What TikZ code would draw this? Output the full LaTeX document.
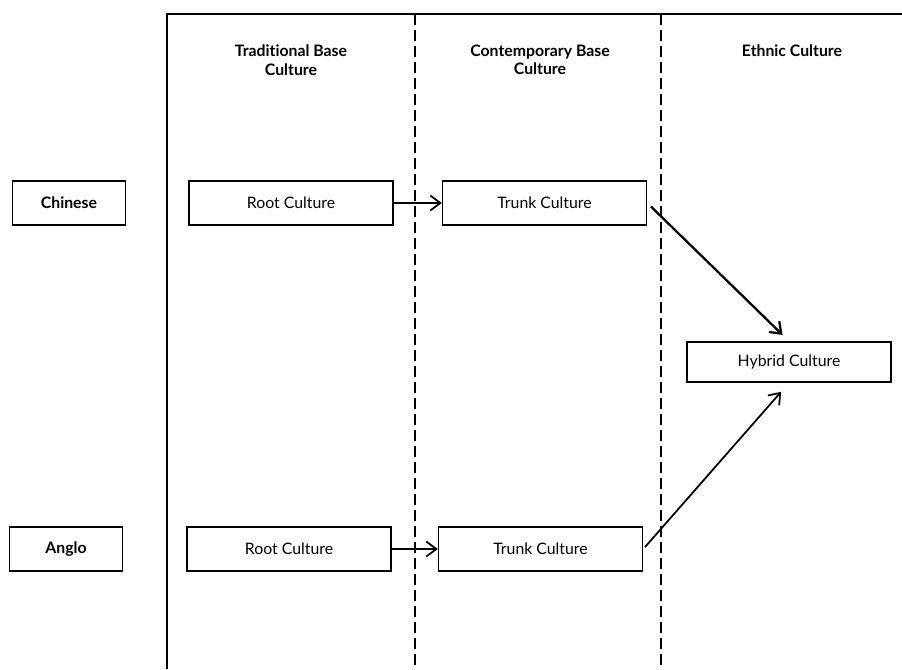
\documentclass[tikz,border=0pt]{standalone}
\usepackage{fontspec}
\setmainfont{Lato}[Ligatures=NoCommon]
\usepackage{tikz}
\usetikzlibrary{positioning}
\usetikzlibrary{arrows.meta}

\tikzset{
	cultbox/.style={draw, line width=0.9pt, minimum width=4.08cm, minimum height=0.88cm, inner sep=0pt, font=\fontsize{9}{11}\selectfont},
	groupbox/.style={draw, line width=0.9pt, minimum width=2.26cm, minimum height=0.88cm, inner sep=0pt, font=\bfseries\fontsize{9}{11}\selectfont},
	colhead/.style={align=center, inner sep=0pt, font=\bfseries\fontsize{9}{10.5}\selectfont},
	divider/.style={line width=0.6pt, dash pattern=on 0.22cm off 0.1cm},
	flow/.style={line width=1pt, -{Straight Barb[length=2mm, width=3mm]}},
}

\begin{document}
\begin{tikzpicture}[x=0.02cm, y=-0.02cm]
		
		% ---------------------
		% Proper size --- Bounding box
		\useasboundingbox (0,0) rectangle (902,669);
		
		% ---------------------
		% Frame & column dividers
		
		\coordinate (Corner) at (167,14);
		
		\path (Corner) +(735,0) coordinate (TopEnd);
		\path (Corner) +(0,655) coordinate (LeftEnd);
		\path (Corner) +(248,0) coordinate (Div1);
		\path (Corner) +(494,0) coordinate (Div2);
		\path (Div1) +(0,655) coordinate (Div1End);
		\path (Div2) +(0,655) coordinate (Div2End);
		
		\draw[line width=0.9pt] (TopEnd) -- (Corner) -- (LeftEnd);
		\draw[divider] (Div1) -- (Div1End);
		\draw[divider] (Div2) -- (Div2End);
		
		% ---------------------
		% Column headings
		
		\node[colhead] (HeadTrad) at (291,60) {Traditional Base\\Culture};
		\node[colhead] (HeadCont) at (540,60) {Contemporary Base\\Culture};
		\node[colhead] (HeadEthn) at (792,51) {Ethnic Culture};
		
		% ---------------------
		% Rows
		
		\node[groupbox] (Chinese) at (69,203) {Chinese};
		\node[cultbox] (RootC) at (291,203) {Root Culture};
		\node[cultbox, right=0.96cm of RootC] (TrunkC) {Trunk Culture};
		
		\node[groupbox] (Anglo) at (66,549) {Anglo};
		\node[cultbox] (RootA) at (289,549) {Root Culture};
		\node[cultbox, right=0.92cm of RootA] (TrunkA) {Trunk Culture};
		
		\node[cultbox, minimum height=0.8cm] (Hybrid) at (789,362) {Hybrid Culture};
		
		% ---------------------
		\draw[flow] (RootC) -- (TrunkC);
		\draw[flow] (RootA) -- (TrunkA);
		
		\draw[flow, line width=1.3pt, shorten <=0.1cm, shorten >=0.18cm] (TrunkC.east) -- (Hybrid.north);
		\draw[flow, shorten <=0.05cm, shorten >=0.24cm] (TrunkA.east) -- (Hybrid.south);
		
\end{tikzpicture}
\end{document}
